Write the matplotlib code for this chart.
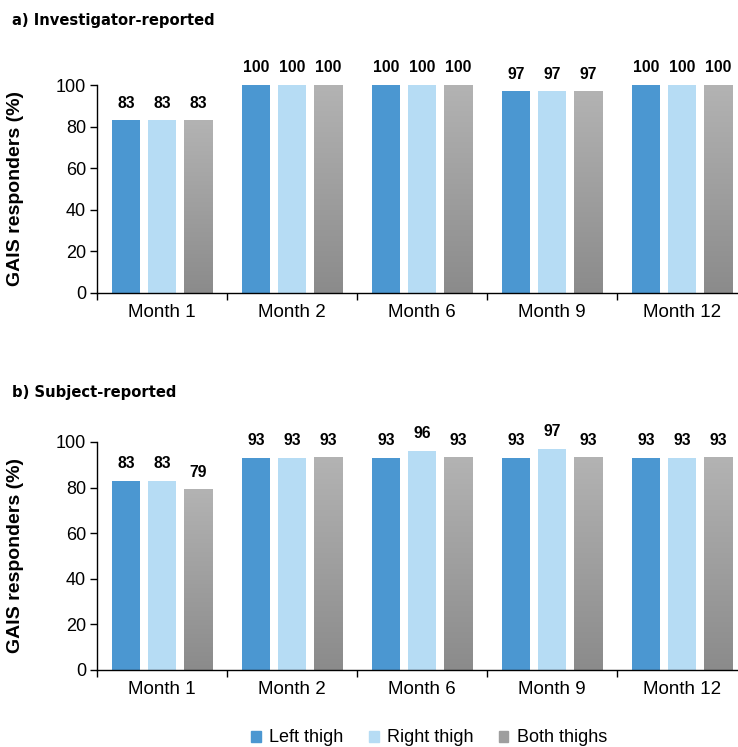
import numpy as np
import matplotlib
matplotlib.use("Agg")
import matplotlib.pyplot as plt
from matplotlib.colors import LinearSegmentedColormap
from matplotlib.patches import Patch

plt.rcParams['font.family'] = ['Liberation Sans', 'DejaVu Sans']

# ---- data ----
months = ["Month 1", "Month 2", "Month 6", "Month 9", "Month 12"]
series = ["Left thigh", "Right thigh", "Both thighs"]

inv_left = [83, 100, 100, 97, 100]
inv_right = [83, 100, 100, 97, 100]
inv_both = [83, 100, 100, 97, 100]

subj_left = [83, 93, 93, 93, 93]
subj_right = [83, 93, 96, 97, 93]
subj_both = [79, 93, 93, 93, 93]

# ---- style ----
c_left = "#4b97d1"
c_right = "#b6dcf4"
grey_cmap = LinearSegmentedColormap.from_list("g", ["#8b8b8b", "#b3b3b3"])
bar_w = 0.22
step = 0.277


def draw_panel(ax, vals, title, title_y):
    x = np.arange(len(months))
    ax.bar(x - step, vals[0], bar_w, color=c_left)
    ax.bar(x, vals[1], bar_w, color=c_right)
    grad = np.linspace(0, 1, 256).reshape(-1, 1)
    for xi, v in zip(x, vals[2]):
        ax.imshow(grad, cmap=grey_cmap, origin="lower", aspect="auto",
                  extent=(xi + step - bar_w / 2, xi + step + bar_w / 2, 0, v),
                  zorder=2)
    for off, vv in zip((-step, 0, step), vals):
        for xi, v in zip(x, vv):
            ax.annotate(f"{v}", (xi + off, v), xytext=(0, 7),
                        textcoords="offset points", ha="center", va="bottom",
                        fontsize=11.3, fontweight="bold", annotation_clip=False)
    ax.set_xlim(-0.5, 4.5)
    ax.set_ylim(0, 100)
    ax.set_yticks(range(0, 101, 20))
    ax.set_xticks(x)
    ax.set_xticklabels(months)
    ax.set_xticks(np.arange(-0.5, 5, 1), minor=True)
    ax.tick_params(axis="x", which="major", length=0, pad=8, labelsize=13.5)
    ax.tick_params(axis="x", which="minor", length=5, width=1)
    ax.tick_params(axis="y", length=5, width=1, labelsize=13, pad=3)
    for s in ("top", "right"):
        ax.spines[s].set_visible(False)
    ax.spines["left"].set_linewidth(1)
    ax.spines["bottom"].set_linewidth(1)
    ax.set_ylabel("GAIS responders (%)", fontsize=14, fontweight="bold")
    ax.yaxis.set_label_coords(-(97 - 24) / 650, 0.5)
    fig.text(12 / 738, title_y, title, fontsize=10.6, fontweight="bold",
             family="DejaVu Sans", ha="left", va="center")


fig = plt.figure(figsize=(7.38, 7.47), dpi=100)
ax1 = fig.add_axes([97 / 738, 0.6078, 650 / 738, 0.2784])
ax2 = fig.add_axes([97 / 738, 0.1031, 650 / 738, 0.3052])

draw_panel(ax1, [inv_left, inv_right, inv_both], "a) Investigator-reported", 1 - 20 / 747)
draw_panel(ax2, [subj_left, subj_right, subj_both], "b) Subject-reported", 1 - 392 / 747)

handles = [Patch(color=c_left), Patch(color=c_right), Patch(color="#9e9e9e")]
fig.legend(handles, series, loc="center", bbox_to_anchor=(429 / 738, 1 - 738 / 747),
           ncol=3, frameon=False, fontsize=13, handlelength=0.55, handleheight=0.55,
           handletextpad=0.45, columnspacing=1.4)

fig.savefig("out.png", dpi=100)
